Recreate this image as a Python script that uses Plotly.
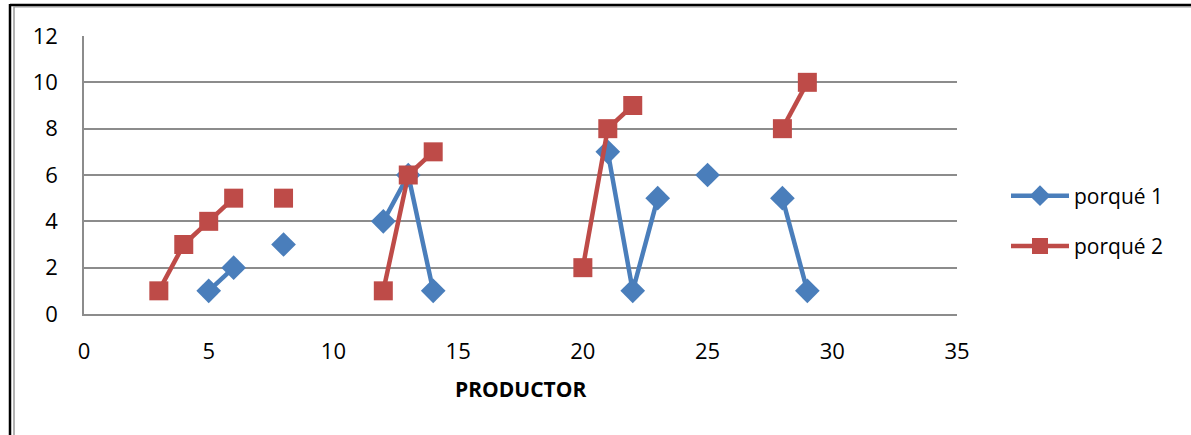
import plotly.graph_objects as go

# Data (gaps = None)
productor = list(range(1, 30))
porque1 = [None, None, None, None, 1, 2, None, 3, None, None, None, 4, 6, 1,
           None, None, None, None, None, None, 7, 1, 5, None, 6, None, None, 5, 1]
porque2 = [None, None, 1, 3, 4, 5, None, 5, None, None, None, 1, 6, 7,
           None, None, None, None, None, 2, 8, 9, None, None, None, None, None, 8, 10]

W, H = 1191, 435
L, R, T, B = 84, 957, 36, 314
pw, ph = R - L, B - T

def px(x):
    return (x - L) / pw

def py(y):
    return 1 - (y - T) / ph

BLUE = "#4A7EBB"
RED = "#BE4B48"
FONT = "Open Sans"

fig = go.Figure()
fig.add_trace(go.Scatter(
    x=productor, y=porque1, name="porqué 1", mode="lines+markers",
    line=dict(color=BLUE, width=4.5), legendgroup="g1",
    marker=dict(symbol="diamond", size=19, color=BLUE),
    connectgaps=False,
))
fig.add_trace(go.Scatter(
    x=productor, y=porque2, name="porqué 2", mode="lines+markers",
    line=dict(color=RED, width=4.5), legendgroup="g2",
    marker=dict(symbol="square", size=19, color=RED),
    connectgaps=False,
))

shapes = [
    # outer frame
    dict(type="line", xref="paper", yref="paper", x0=px(10), x1=px(W + 5), y0=py(5), y1=py(5),
         line=dict(color="black", width=2.5)),
    dict(type="line", xref="paper", yref="paper", x0=px(14), x1=px(W + 5), y0=py(6.8), y1=py(6.8),
         line=dict(color="#9a9a9a", width=1.5)),
    dict(type="line", xref="paper", yref="paper", x0=px(10), x1=px(10), y0=py(4), y1=py(H + 5),
         line=dict(color="black", width=2.5)),
    dict(type="line", xref="paper", yref="paper", x0=px(14), x1=px(14), y0=py(6), y1=py(H + 5),
         line=dict(color="#9a9a9a", width=1.5)),
]

fig.update_layout(
    width=W, height=H,
    margin=dict(l=L, r=W - R, t=T, b=H - B, autoexpand=False),
    paper_bgcolor="white", plot_bgcolor="white",
    font=dict(family=FONT, size=20, color="black"),
    showlegend=True,
    legend=dict(x=px(1006), y=py(221), xanchor="left", yanchor="middle",
                font=dict(family=FONT, size=21, color="black"),
                itemwidth=58, tracegroupgap=20, bgcolor="rgba(0,0,0,0)"),
    shapes=shapes,
    annotations=[dict(text="<b>PRODUCTOR</b>", xref="paper", yref="paper",
                      x=0.5, y=py(389), showarrow=False, xanchor="center", yanchor="middle",
                      font=dict(family=FONT, size=21, color="black"))],
)
fig.update_xaxes(range=[0, 35], tickvals=[0, 5, 10, 15, 20, 25, 30, 35],
                 showgrid=False, zeroline=False, showline=True, linecolor="#8c8c8c", linewidth=1.5,
                 ticks="", ticklabelstandoff=17, tickfont=dict(size=22))
fig.update_yaxes(range=[0, 12], tickvals=[0, 2, 4, 6, 8, 10, 12],
                 showgrid=True, gridcolor="#8c8c8c", gridwidth=1.5, zeroline=False,
                 showline=True, linecolor="#8c8c8c", linewidth=1.5,
                 ticks="", ticklabelstandoff=20, tickfont=dict(size=22))

fig.write_html("out.html", config={"displayModeBar": False},
               post_script="document.body.style.margin='0';")
